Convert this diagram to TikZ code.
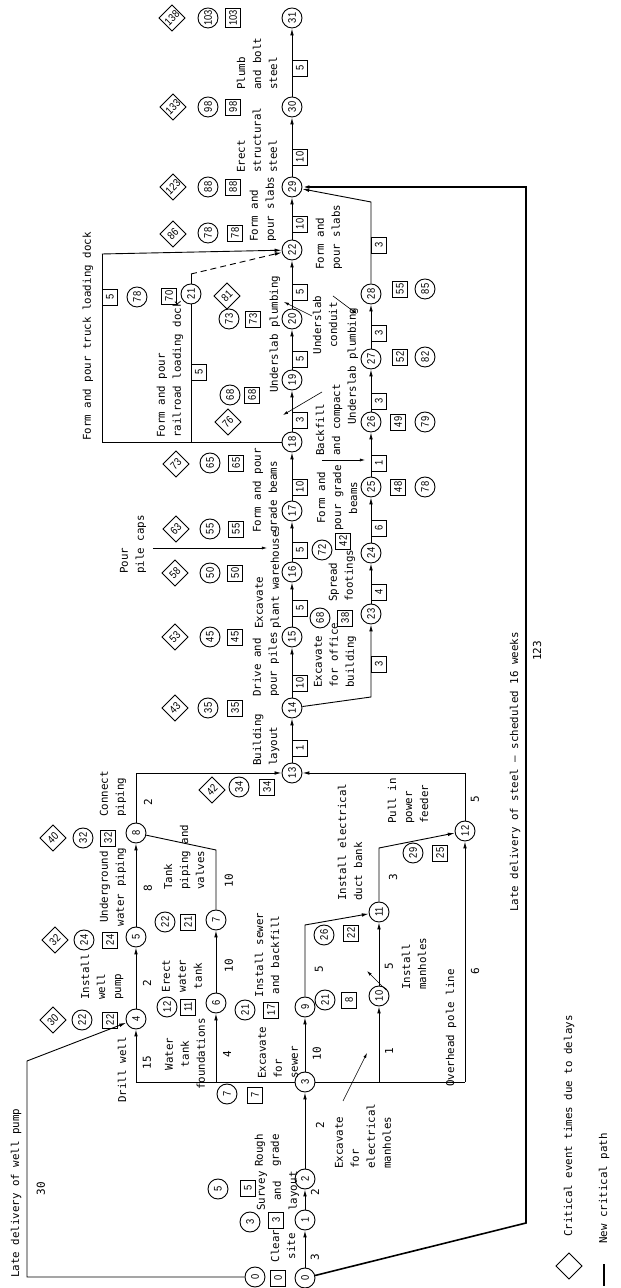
\documentclass[tikz,border=0pt]{standalone}
\usepackage{fontspec}
\setmainfont{DejaVu Sans Mono}
\newfontfamily\numfont{Liberation Sans}[FakeStretch=0.85]
\usetikzlibrary{arrows.meta,shapes.geometric}

\begin{document}
\begin{tikzpicture}[x=1pt, y=1pt, line width=0.9pt, >={Latex[length=7pt,width=3.6pt]},
	lb/.style={font=\fontsize{10.8}{16}\selectfont, inner sep=0pt, align=left},
	du/.style={font=\fontsize{11}{14}\selectfont, inner sep=0pt},
	nd/.style={circle, draw, fill=white, inner sep=0pt, minimum size=20pt, font=\numfont\fontsize{11}{11}\selectfont},
	sq/.style={draw, fill=white, inner sep=1.5pt, minimum width=16pt, minimum height=15pt, font=\numfont\fontsize{11}{11}\selectfont},
	bx/.style={sq, anchor=north},
	dm/.style={draw, rotate=-45, inner sep=0pt, minimum size=18.5pt, font=\numfont\fontsize{11}{11}\selectfont},
	crit/.style={line width=1.6pt},
	ld/.style={line width=0.6pt, -{Latex[length=5pt,width=3pt]}}]
	\useasboundingbox (-621,0) rectangle (0,1288);
	\begin{scope}[rotate=90, transform shape]
	% events
	\foreach \n/\x/\y in {0/10/316, 1/68/316, 2/109/316, 3/206/316, 4/269/485, 5/351/485, 6/285/405, 7/368/405, 8/455/485, 9/281/316, 10/292/242, 11/376/242, 12/457/156, 13/515/329, 14/580/329, 15/651/329, 16/716/329, 17/777/329, 18/846/329, 19/908/329, 20/969/329, 21/994/430, 22/1038/329, 23/674/250, 24/735/250, 25/801/250, 26/866/250, 27/929/250, 28/994/250, 29/1101/329, 30/1181/329, 31/1270/329}
		\node[nd] (n\n) at (\x,\y) {\n};
	% early times
	\foreach \n/\x/\y/\t in {0/11/366/0, 1/66/371/3, 2/99/403/5, 3/194/394/7, 4/268/539/22, 5/348/537/24, 6/281/454/12, 7/366/456/22, 8/450/538/32, 9/278/376/21, 10/288/296/21, 11/353/297/26, 12/435/208/29, 13/501/382/34, 14/580/413/35, 15/651/411/45, 16/715/411/50, 17/759/411/55, 18/825/411/65, 19/893/391/68, 20/969/392/73, 21/991/484/78, 22/1055/413/78, 23/670/301/68, 24/738/299/72, 25/801/196/78, 26/866/196/79, 27/931/196/82, 28/999/196/85, 29/1101/413/88, 30/1181/413/98, 31/1270/413/103}
		\node[nd] (c\n) at (\x,\y) {\t};
	\foreach \n/\x/\y/\t in {0/10/343/0, 1/68/345/3, 2/100/373/5, 3/193/366/7, 4/268/511/22, 5/348/511/24, 6/281/433/11, 7/366/433/21, 8/450/513/32, 9/278/350/17, 10/288/272/8, 11/355/270/22, 12/435/181/25, 13/501/354/34, 14/580/386/35, 15/651/386/45, 16/715/386/50, 17/759/385/55, 18/825/385/65, 19/893/369/68, 20/969/368/73, 21/992/452/70, 22/1055/386/78, 23/670/276/38, 24/747/278/42, 25/801/223/48, 26/866/223/49, 27/931/221/52, 28/999/221/55, 29/1101/388/88, 30/1181/388/98, 31/1270/388/103}
		\node[sq] (s\n) at (\x,\y) {\t};
	\foreach \n/\x/\y/\t in {4/268/568/30, 5/348/566/32, 8/450/568/40, 13/498/409/42, 14/580/446/43, 15/651/446/53, 16/715/446/58, 17/759/445/63, 18/824/445/73, 19/866/393/76, 20/992/394/81, 22/1054/448/86, 29/1101/448/123, 30/1181/448/133, 31/1270/449/138}
		\node[dm] (d\n) at (\x,\y) {\t};

	% activities
	\foreach \a/\b in {0/1, 1/2, 2/3, 3/9, 4/5, 5/8, 6/7, 10/11, 13/14, 14/15, 15/16, 16/17, 17/18, 18/19, 19/20, 20/22, 22/29, 29/30, 30/31, 23/24, 24/25, 25/26, 26/27, 27/28}
		\draw[->] (n\a) -- (n\b);
	\coordinate (k4) at (206,485); \coordinate (k6) at (206,405);
	\coordinate (k10) at (206,242); \coordinate (k12) at (206,156);
	\draw (k4) -- (n3) -- (k12);
	\draw[->] (k4) -- (n4); \draw[->] (k6) -- (n6);
	\draw[->] (k10) -- (n10); \draw[->] (k12) -- (n12);
	\coordinate (g7) at (438,405); \draw (n7) -- (g7) -- (n8);
	\coordinate (g9) at (363,316); \draw[->] (n9) -- (g9) -- (n11);
	\coordinate (g11) at (440,242); \draw[->] (n11) -- (g11) -- (n12);
	\coordinate (g8) at (515,485); \draw[->] (n8) -- (g8) -- (n13);
	\coordinate (g12) at (515,156); \draw[->] (n12) -- (g12) -- (n13);
	\coordinate (g14) at (591,250); \draw[->] (n14) -- (g14) -- (n23);
	\coordinate (g28) at (1086,250); \draw[->] (n28) -- (g28) -- (n29);
	\coordinate (rr) at (846,430); \coordinate (tk) at (846,519); \coordinate (tk2) at (1034,519);
	\draw (n18) -- (tk) -- (tk2); \draw[->] (tk2) -- (n22);
	\draw (rr) -- (n21);
	\coordinate (g21) at (1014,430); \draw (n21) -- (g21);
	\draw[->, dash pattern=on 6pt off 4pt] (g21) -- (n22);
	\coordinate (w1) at (11,594); \coordinate (w2) at (227,594);
	\draw[->] (c0) -- (w1) -- (w2) -- (n4);
	\coordinate (st1) at (65,95); \coordinate (st2) at (1101,95);
	\draw[crit, ->] (n0) -- (st1) -- (st2) -- (n29);

	% durations
	\foreach \x/\y/\t in {540/329/1, 605/329/10, 680/329/5, 738/329/5, 801/329/10, 868/329/3, 929/329/5, 996/329/5, 1064/329/10, 1131/329/10, 1220/329/5, 624/250/3, 696/250/4, 760/250/6, 825/250/1, 887/250/3, 955/250/3, 1043/250/3, 916/430/5, 991/519/5}
		\node[bx] (b\x) at (\x,\y) {\t};
	\foreach \x/\y/\t [count=\i] in {31/306/3, 96/306/2, 163/301/2, 225/474/15, 234/394/4, 234/304/10, 237/232/1, 317/146/6, 305/474/2, 400/473/8, 486/473/2, 322/392/10, 407/392/10, 319/302/5, 322/232/5, 411/228/3, 489/146/5, 99/580/30}
		\node[du] (t\i) at (\x,\y) {\t};

	% labels
	\node[lb, anchor=west] (lwell) at (10,605) {Late delivery of well pump};
	\node[lb, align=center] (lclear) at (42,338) {Clear\\site};
	\node[lb, align=center] (lsurvey) at (97,343) {Survey\\and\\layout};
	\node[lb, anchor=west] (lrough) at (121,353) {Rough\\grade};
	\node[lb] (ldrill) at (218,499) {Drill well};
	\node[lb, align=center] (lwater) at (234,436) {Water\\tank\\foundations};
	\node[lb, anchor=west] (lsewer) at (209,343) {Excavate\\for\\sewer};
	\node[lb, anchor=west] (lelec) at (119,258) {Excavate\\for\\electrical\\manholes};
	\node[lb] (lpole) at (260,170) {Overhead pole line};
	\node[lb, anchor=west] (lpump) at (288,519) {Install\\well\\pump};
	\node[lb, align=center] (lunder) at (401,508) {Underground\\water piping};
	\node[lb, anchor=west] (lconn) at (471,508) {Connect\\piping};
	\node[lb, align=center] (lerect) at (312,439) {Erect\\water\\tank};
	\node[lb, anchor=west] (ltank) at (398,437) {Tank\\piping and\\valves};
	\node[lb, align=center] (lsewer2) at (333,354) {Install sewer\\and backfill};
	\node[lb, anchor=west] (lman) at (298,207) {Install\\manholes};
	\node[lb, anchor=west] (lduct) at (387,271) {Install electrical\\duct bank};
	\node[lb, anchor=west] (lfeed) at (464,213) {Pull in\\power\\feeder};
	\node[lb, anchor=west] (lbuild) at (522,355) {Building\\layout};
	\node[lb, anchor=west] (ldrive) at (591,355) {Drive and\\pour piles};
	\node[lb, anchor=west] (loffice) at (600,286) {Excavate\\for office\\building};
	\node[lb, anchor=west] (lplant) at (659,353) {Excavate\\plant warehouse};
	\node[lb, anchor=west] (lspread) at (686,279) {Spread\\footings};
	\node[lb, anchor=west] (lcaps) at (714,488) {Pour\\pile caps};
	\node[lb, anchor=west] (lgrade) at (755,355) {Form and pour\\grade beams};
	\node[lb, align=center] (lgrade2) at (790,284) {Form and\\pour grade\\beams};
	\node[lb, anchor=west] (lback) at (832,292) {Backfill\\and compact};
	\node[lb, anchor=west] (lplumb2) at (863,268) {Underslab plumbing};
	\node[lb, anchor=west] (lplumb) at (895,346) {Underslab plumbing};
	\node[lb, align=center] (lcond) at (963,296) {Underslab\\conduit};
	\node[lb, anchor=west] (lslab) at (1046,358) {Form and\\pour slabs};
	\node[lb, anchor=west] (lslab2) at (1018,292) {Form and\\pour slabs};
	\node[lb, anchor=west] (lrail) at (850,451) {Form and pour\\railroad loading dock};
	\node[lb, anchor=west] (ltruck) at (847,533) {Form and pour truck loading dock};
	\node[lb, anchor=west] (lsteel) at (1115,364) {Erect\\structural\\steel};
	\node[lb, anchor=west] (lbolt) at (1198,364) {Plumb\\and bolt\\steel};
	\node[lb] (llate) at (516,106) {Late delivery of steel --- scheduled 16 weeks};
	\node[du] (l123) at (637,84) {123};

	% leaders
	\coordinate (pa) at (740,468); \coordinate (pb) at (740,354); \draw[ld] (pa) -- (pb);
	\coordinate (ea) at (187,278); \coordinate (eb) at (235,254); \draw[ld] (ea) -- (eb);
	\coordinate (ma) at (298,235); \coordinate (mb) at (317,254); \draw[ld] (ma) -- (mb);
	\coordinate (fa) at (896,299); \coordinate (fb) at (873,338); \draw[ld] (fa) -- (fb);
	\coordinate (fc) at (828,299); \coordinate (fd) at (828,256); \draw[ld] (fc) -- (fd);
	\coordinate (ua) at (972,309); \coordinate (ub) at (986,337); \draw[ld] (ua) -- (ub);
	\coordinate (uc) at (992,288); \coordinate (ud) at (974,264); \draw[ld] (uc) -- (ud);

	% legend
	\node[dm] (dleg) at (22,52) {};
	\node[lb, anchor=west] (lleg) at (51,52) {Critical event times due to delays};
	\coordinate (cp1) at (2,17); \coordinate (cp2) at (24,17);
	\draw[crit] (cp1) -- (cp2);
	\node[lb, anchor=west] (lcp) at (44,17) {New critical path};
	\end{scope}
\end{tikzpicture}
\end{document}
